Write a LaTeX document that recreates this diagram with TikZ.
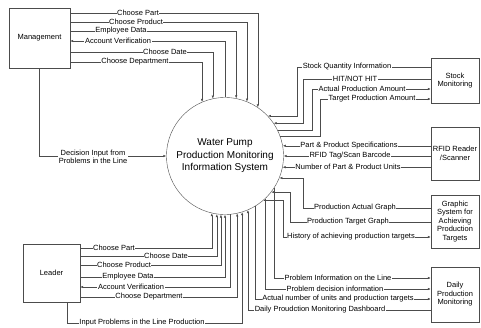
\documentclass[tikz,border=0pt]{standalone}
\usepackage{fontspec}
\setmainfont{Liberation Sans}
\usetikzlibrary{arrows.meta}
\tikzset{
  ent/.style={draw=black!70,align=center,inner sep=1pt,font=\fontsize{7.5}{8.5}\selectfont},
  lbl/.style={fill=white,inner sep=0.6pt,align=center,font=\fontsize{7.5}{8.5}\selectfont},
  flow/.style={draw=black!70,line width=0.5pt,-{Latex[length=3pt,width=2.4pt]}},
}
\begin{document}
\begin{tikzpicture}[x=1pt,y=-1pt]
\useasboundingbox (0,0) rectangle (481,327);
% system
\node[circle,draw=black!70,minimum size=117pt,inner sep=0pt,align=center,
  font=\fontsize{10}{12.5}\selectfont] (sys) at (225,156)
  {Water Pump\\Production Monitoring\\Information System};
% entities
\node[ent,minimum width=61pt,minimum height=60pt] (mgmt) at (39.5,38) {Management};
\node[ent,minimum width=57pt,minimum height=58pt] (leader) at (51.5,273) {Leader};
\node[ent,minimum width=48pt,minimum height=45pt] (stock) at (455,80.5) {Stock\\Monitoring};
\node[ent,minimum width=48pt,minimum height=53pt] (rfid) at (455,153.5) {RFID Reader\\/Scanner};
\node[ent,minimum width=48pt,minimum height=53pt] (graph) at (455,221.5) {Graphic\\System for\\Achieving\\Production\\Targets};
\node[ent,minimum width=48pt,minimum height=55pt] (daily) at (455,294.5) {Daily\\Production\\Monitoring};

% management
\draw[flow] (mgmt.east |- 0,13) -| (sys.56);
\draw[flow] (mgmt.east |- 0,22) -| (sys.68);
\draw[flow] (mgmt.east |- 0,31) -| (sys.79);
\draw[flow] (sys.90) |- (mgmt.east |- 0,41);
\draw[flow] (mgmt.east |- 0,52) -| (sys.102);
\draw[flow] (mgmt.east |- 0,62) -| (sys.113);
\draw[flow] (mgmt.south) |- (sys.west);
\node[lbl] at (138,13) {Choose Part};
\node[lbl] at (136,22) {Choose Product};
\node[lbl] at (121,31) {Employee Data};
\node[lbl] at (118,41) {Account Verification};
\node[lbl] at (165,52) {Choose Date};
\node[lbl] at (135,62) {Choose Department};
\node[lbl] at (93,157) {Decision Input from\\Problems in the Line};

% stock monitoring
\draw[flow] (stock.west |- 0,67) -| (297,0 |- sys.43) -- (sys.43);
\draw[flow] (stock.west |- 0,79) -| (303,0 |- sys.34) -- (sys.34);
\draw[flow] (sys.26) -| (312,89) -- (stock.west |- 0,89);
\draw[flow] (sys.20) -| (320,99) -- (stock.west |- 0,99);
\node[lbl] at (347,67) {Stock Quantity Information};
\node[lbl] at (355,79) {HIT/NOT HIT};
\node[lbl] at (362,89) {Actual Production Amount};
\node[lbl] at (372,99) {Target Production Amount};

% rfid
\draw[flow] (rfid.west |- sys.10) -- (sys.10);
\draw[flow] (rfid.west |- sys.east) -- (sys.east);
\draw[flow] (rfid.west |- sys.349) -- (sys.349);
\node[lbl] at (349,146) {Part \& Product Specifications};
\node[lbl] at (350,156) {RFID Tag/Scan Barcode};
\node[lbl] at (348,167) {Number of Part \& Product Units};

% graphic system
\draw[flow] (graph.west |- 0,208) -| (303,0 |- sys.338) -- (sys.338);
\draw[flow] (graph.west |- 0,222) -| (290,0 |- sys.322) -- (sys.322);
\draw[flow] (sys.311) -| (283,237) -- (graph.west |- 0,237);
\node[lbl] at (355,208) {Production Actual Graph};
\node[lbl] at (348,222) {Production Target Graph};
\node[lbl] at (351,237) {History of achieving production targets};

% daily monitoring
\draw[flow] (sys.327) |- (daily.west |- 0,278);
\draw[flow] (sys.313) |- (daily.west |- 0,289);
\draw[flow] (sys.301) |- (daily.west |- 0,299);
\draw[flow] (daily.west |- 0,310) -| (sys.293);
\node[lbl] at (338,278) {Problem Information on the Line};
\node[lbl] at (335,289) {Problem decision information};
\node[lbl] at (338,299) {Actual number of units and production targets};
\node[lbl] at (320,310) {Daily Proudction Monitoring Dashboard};

% leader
\draw[flow] (leader.east |- 0,248) -| (sys.257);
\draw[flow] (leader.east |- 0,256) -| (sys.262);
\draw[flow] (leader.east |- 0,265) -| (sys.266);
\draw[flow] (leader.east |- 0,277) -| (sys.270);
\draw[flow] (sys.275) |- (leader.east |- 0,287);
\draw[flow] (leader.east |- 0,297) -| (sys.282);
\draw[flow] (leader.south -| 67,0) |- (sys.287 |- 0,323) -- (sys.287);
\node[lbl] at (114,248) {Choose Part};
\node[lbl] at (166,256) {Choose Date};
\node[lbl] at (124,265) {Choose Product};
\node[lbl] at (128,277) {Employee Data};
\node[lbl] at (131,287) {Account Verification};
\node[lbl] at (149,297) {Choose Department};
\node[lbl] at (142,323) {Input Problems in the Line Production};
\end{tikzpicture}
\end{document}
